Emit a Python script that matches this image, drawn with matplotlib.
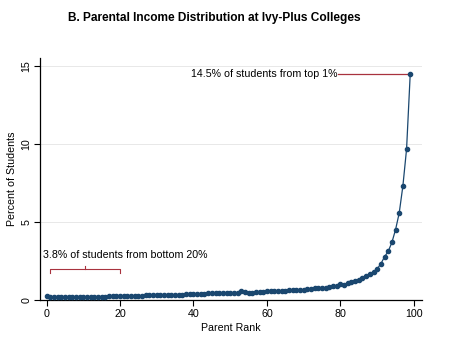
import matplotlib
matplotlib.use("Agg")
import matplotlib.pyplot as plt
import numpy as np

plt.rcParams['font.family'] = ['Liberation Sans', 'DejaVu Sans']

ranks = list(range(0, 100))
share = [
    # 0-19
    0.22, 0.16, 0.15, 0.15, 0.16, 0.16, 0.15, 0.16, 0.17, 0.17,
    0.18, 0.17, 0.18, 0.19, 0.19, 0.20, 0.20, 0.21, 0.22, 0.22,
    # 20-39
    0.21, 0.22, 0.23, 0.23, 0.26, 0.24, 0.25, 0.27, 0.28, 0.30,
    0.29, 0.30, 0.31, 0.30, 0.31, 0.32, 0.33, 0.33, 0.35, 0.34,
    # 40-59
    0.35, 0.36, 0.37, 0.38, 0.40, 0.40, 0.42, 0.43, 0.41, 0.42,
    0.45, 0.44, 0.46, 0.55, 0.47, 0.43, 0.46, 0.48, 0.50, 0.52,
    # 60-79
    0.55, 0.55, 0.56, 0.57, 0.57, 0.58, 0.60, 0.62, 0.65, 0.63,
    0.64, 0.66, 0.68, 0.72, 0.73, 0.73, 0.78, 0.82, 0.85, 0.90,
    # 80-99
    1.00, 0.92, 1.05, 1.15, 1.22, 1.28, 1.40, 1.50, 1.65, 1.80,
    1.98, 2.30, 2.75, 3.10, 3.67, 4.49, 5.56, 7.30, 9.66, 14.50,
]

title = "B. Parental Income Distribution at Ivy-Plus Colleges"
xlabel = "Parent Rank"
ylabel = "Percent of Students"
xticks = [0, 20, 40, 60, 80, 100]
yticks = [0, 5, 10, 15]
top_note = "14.5% of students from top 1%"
bottom_note = "3.8% of students from bottom 20%"
top_value = 14.5
top_rank = 99
bottom_range = (1, 20)

navy = "#1a476f"
red = "#a8323e"

W, H = 457, 346
fig = plt.figure(figsize=(W / 100, H / 100), dpi=100)
L, R, T, B = 40, 422, 58, 300
ax = fig.add_axes([L / W, 1 - B / H, (R - L) / W, (B - T) / H])

ax.plot(ranks, share, color=navy, lw=0.9, marker='o', ms=3.0,
        mec=navy, mfc=navy, zorder=3)

ax.set_xlim(-1.77, 102.2)
ax.set_ylim(-0.02, 15.5)
ax.set_xticks(xticks)
ax.set_yticks(yticks)
ax.tick_params(axis='both', labelsize=7.7, length=4, width=0.8, color='black')
ax.tick_params(axis='x', pad=2.5)
ax.tick_params(axis='y', pad=2)
for lab in ax.get_yticklabels():
    lab.set_rotation(90)
    lab.set_va('center')

for s in ['top', 'right']:
    ax.spines[s].set_visible(False)
for s in ['left', 'bottom']:
    ax.spines[s].set_linewidth(0.9)

for yv in yticks[1:]:
    ax.axhline(yv, color='#e8e8e8', lw=0.7, zorder=0)

ax.set_xlabel(xlabel, fontsize=7.7)
ax.set_ylabel(ylabel, fontsize=7.7)
ax.xaxis.set_label_coords(0.5, -(328 - 300) / (B - T))
ax.xaxis.label.set_va('center')
ax.yaxis.set_label_coords((12 - L) / (R - L), 0.5)
ax.yaxis.label.set_va('center')

fig.text(214.5 / W, 1 - 18 / H, title, ha='center', va='center',
         fontsize=8.6, fontweight='bold')

# top annotation
ax.plot([79.3, top_rank], [top_value, top_value], color=red, lw=0.9, zorder=2)
ax.text(79.1, top_value, top_note, ha='right', va='center', fontsize=7.7)

# bottom bracket
x0, x1 = bottom_range
xm = (x0 + x1) / 2
yb = 1.97
ax.plot([x0, x0, x1, x1], [yb - 0.24, yb, yb, yb - 0.24], color=red, lw=0.8)
ax.plot([xm, xm], [yb, yb + 0.18], color=red, lw=0.8)
ax.text(-0.9, 2.88, bottom_note, ha='left', va='center', fontsize=7.7)

fig.savefig("out.png", dpi=100)
